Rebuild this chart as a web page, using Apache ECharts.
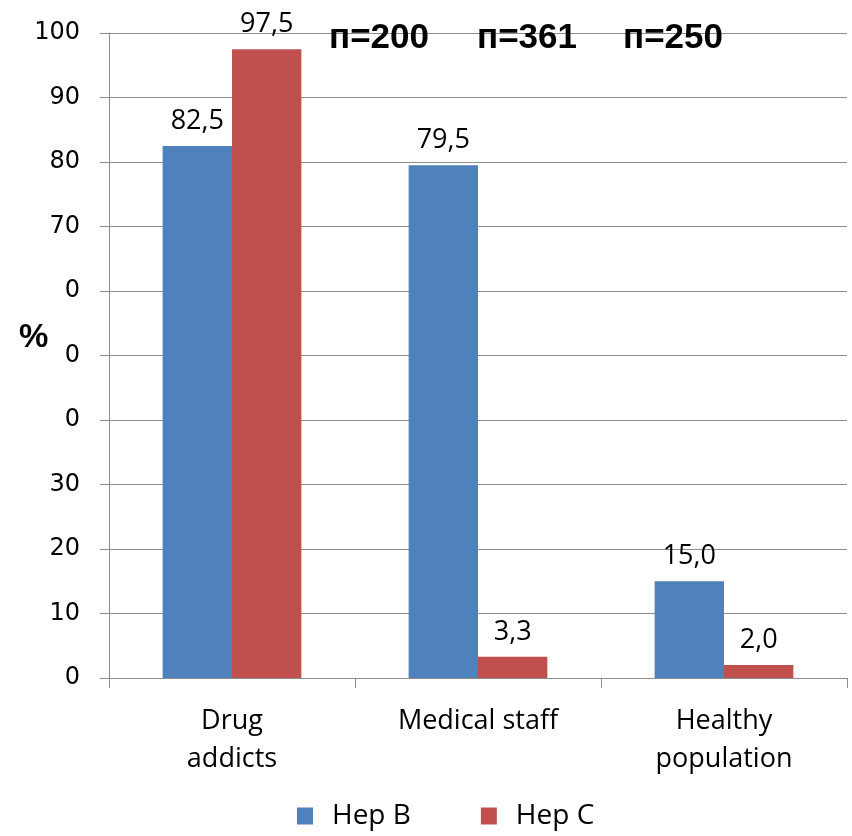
<!DOCTYPE html>
<html>
<head>
<meta charset="utf-8">
<script src="https://cdn.jsdelivr.net/npm/echarts@6/dist/echarts.min.js"></script>
<style>
  html, body { margin: 0; padding: 0; background: #fff; }
  #chart { width: 852px; height: 836px; }
</style>
</head>
<body>
<div id="chart"></div>
<script>
// Prevalence of hepatitis markers by group
const categories = ['Drug\naddicts', 'Medical staff', 'Healthy\npopulation'];
const hepB = [82.5, 79.5, 15.0];
const hepC = [97.5, 3.3, 2.0];
const seriesNames = ['Hep B', 'Hep C'];
// Tick labels from 0 up to 100, as printed on the value axis
const tickLabels = ['0', '10', '20', '30', '0', '0', '0', '70', '80', '90', '100'];
const sampleSizes = ['п=200', 'п=361', 'п=250'];

const blue = '#4F81BD';
const red = '#C0504D';
const gray = '#8C8C8C';

const chart = echarts.init(document.getElementById('chart'));

const fmt = v => v.toFixed(1).replace('.', ',');

const valueLabel = {
  show: true,
  position: 'top',
  distance: 11,
  fontFamily: 'Open Sans',
  fontSize: 27,
  color: '#000',
  formatter: p => fmt(p.value)
};

const nCenters = [379, 527, 673];

chart.setOption({
  animation: false,
  backgroundColor: '#fff',
  grid: { left: 109, right: 5, top: 33, bottom: 158, containLabel: false },
  legend: {
    data: seriesNames,
    bottom: 1,
    left: 292,
    itemWidth: 16,
    itemHeight: 17,
    itemGap: 70,
    icon: 'rect',
    textStyle: {
      fontFamily: 'Open Sans',
      fontSize: 28,
      color: '#000',
      padding: [0, 0, 0, 14]
    }
  },
  xAxis: {
    type: 'category',
    data: categories,
    axisLine: { lineStyle: { color: gray, width: 1 } },
    axisTick: { show: true, length: 10, lineStyle: { color: gray } },
    axisLabel: {
      margin: 24,
      fontFamily: 'Open Sans',
      fontSize: 27,
      lineHeight: 38,
      color: '#000',
      verticalAlign: 'top'
    }
  },
  yAxis: {
    type: 'value',
    min: 0,
    max: 100,
    interval: 10,
    axisLine: { show: true, lineStyle: { color: gray, width: 1 } },
    axisTick: { show: true, length: 9, lineStyle: { color: gray } },
    splitLine: { show: true, lineStyle: { color: gray, width: 1 } },
    axisLabel: {
      margin: 29,
      fontFamily: 'DejaVu Sans',
      fontSize: 24,
      color: '#000',
      formatter: (v) => tickLabels[Math.round(v / 10)]
    }
  },
  series: [
    {
      name: seriesNames[0],
      type: 'bar',
      data: hepB,
      barWidth: '28.2%',
      barGap: '0%',
      itemStyle: { color: blue },
      label: valueLabel
    },
    {
      name: seriesNames[1],
      type: 'bar',
      data: hepC,
      barWidth: '28.2%',
      barGap: '0%',
      itemStyle: { color: red },
      label: valueLabel
    }
  ],
  graphic: [
    {
      type: 'text',
      left: 19,
      top: 321,
      style: {
        text: '%',
        font: 'bold 33px "Liberation Sans", Arial, sans-serif',
        fill: '#000'
      }
    }
  ].concat(sampleSizes.map((t, i) => ({
    type: 'text',
    x: nCenters[i],
    y: 38,
    z: 10,
    style: {
      text: t,
      font: 'bold 35px "Liberation Sans", Arial, sans-serif',
      fill: '#000',
      align: 'center',
      verticalAlign: 'middle'
    }
  })))
});
</script>
</body>
</html>
